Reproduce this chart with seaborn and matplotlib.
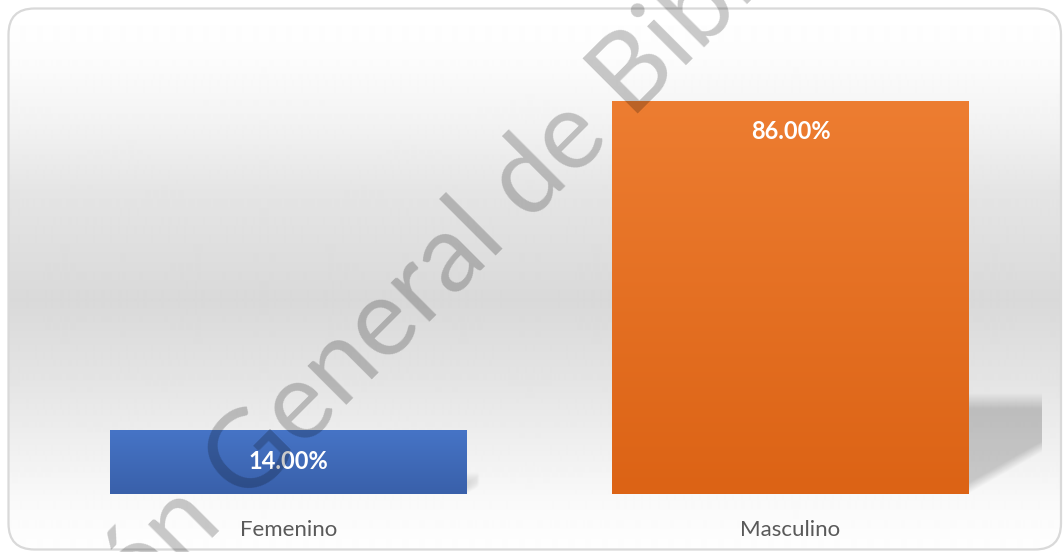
import numpy as np
import matplotlib
matplotlib.use("Agg")
import matplotlib.pyplot as plt
import seaborn as sns
from matplotlib.patches import FancyBboxPatch

# data
categories = ["Femenino", "Masculino"]
values = [14.0, 86.0]
value_labels = ["14.00%", "86.00%"]
bar_top_colors = ["#4674C6", "#ED7D31"]
bar_bottom_colors = ["#3960AA", "#DC6315"]

sns.set_theme(style="white")
plt.rcParams["font.family"] = ["Lato", "DejaVu Sans"]

W, H = 1063, 552
fig = plt.figure(figsize=(W / 100, H / 100), dpi=100)
fig.patch.set_facecolor("white")

# background panel with vertical gradient and rounded frame
bg = fig.add_axes([0, 0, 1, 1])
bg.set_xlim(0, W)
bg.set_ylim(H, 0)
bg.axis("off")
rows = np.arange(H)
stops_y = [8, 60, 120, 190, 300, 380, 450, 500, 548]
stops_v = [255, 252, 243, 229, 217, 228, 240, 249, 254]
shade = np.interp(rows, stops_y, stops_v) / 255
im = bg.imshow(np.repeat(shade[:, None], 2, axis=1), cmap="gray", vmin=0, vmax=1,
               extent=[0, W, H, 0], aspect="auto", interpolation="bilinear")
frame = FancyBboxPatch((8.5, 8.5), W - 2 - 8.5, H - 2.5 - 8.5,
                       boxstyle="round,pad=0,rounding_size=26",
                       fc="none", ec="#d9d9d9", lw=1.6)
bg.add_patch(frame)
im.set_clip_path(frame)

# main chart
ax = fig.add_axes([37.5 / W, 58 / H, 1004 / W, 457 / H])
ax.patch.set_alpha(0)
sns.barplot(x=categories, y=values, hue=categories, palette=bar_top_colors,
            width=0.711, saturation=1, legend=False, ax=ax)
ax.set_xlim(-0.5, 1.5)
ax.set_ylim(0, 100)

for p in list(ax.patches):
    x0, w, h = p.get_x(), p.get_width(), p.get_height()
    i = int(round(x0 + w / 2))
    # soft shadow to the right of the bar
    r, d, t = x0 + w, 0.0018 * h, 0.24 * h
    gx = np.linspace(r, r + d + 0.01, 200)
    gy = np.linspace(0, t + 4, 200)
    X, Y = np.meshgrid(gx, gy)
    s_top = np.clip((t + 1.5 - Y) / 3.5, 0, 1)
    s_right = np.clip((r + d - X) / 0.006, 0, 1)
    y_line = 0.47 * t * (X - r) / d
    s_diag = np.clip((Y - y_line) / 2.5, 0, 1)
    alpha = 0.19 * s_top * s_right * s_diag
    rgba = np.zeros((200, 200, 4))
    rgba[..., 3] = alpha
    ax.imshow(rgba, extent=[gx[0], gx[-1], gy[0], gy[-1]], origin="lower",
              aspect="auto", zorder=0.5, interpolation="bilinear")
    # vertical gradient fill
    c_top = np.array(matplotlib.colors.to_rgb(bar_top_colors[i]))
    c_bot = np.array(matplotlib.colors.to_rgb(bar_bottom_colors[i]))
    f = np.linspace(0, 1, 100)[:, None]
    grad = (c_top * (1 - f) + c_bot * f)[:, None, :]
    gim = ax.imshow(grad, extent=[x0, x0 + w, 0, h], origin="upper",
                    aspect="auto", zorder=2, interpolation="bilinear")
    gim.set_clip_path(p)
    p.set_facecolor("none")
    p.set_edgecolor("none")
    ax.annotate(value_labels[i], (x0 + w / 2, h), xytext=(0, -31),
                textcoords="offset pixels", ha="center", va="center",
                color="white", fontsize=17, fontweight="bold", zorder=3)

ax.set_xlim(-0.5, 1.5)
ax.set_ylim(0, 100)
for s in ax.spines.values():
    s.set_visible(False)
ax.set_yticks([])
ax.set_xticks([0, 1])
ax.set_xticklabels(categories)
ax.tick_params(axis="x", length=0, pad=19, labelsize=16, labelcolor="#595959")
ax.set_xlabel("")
ax.set_ylabel("")

# watermark
wm = dict(rotation=45, rotation_mode="anchor", va="baseline", fontsize=78,
          color="black", alpha=0.21, transform=fig.transFigure, zorder=10)
wx, wy = 245 / W, 1 - 506 / H
fig.text(wx, wy, "Dirección ", ha="right", **wm)
fig.text(wx, wy, "General de Bibliotecas", ha="left", **wm)

fig.savefig("out.png", dpi=100)
